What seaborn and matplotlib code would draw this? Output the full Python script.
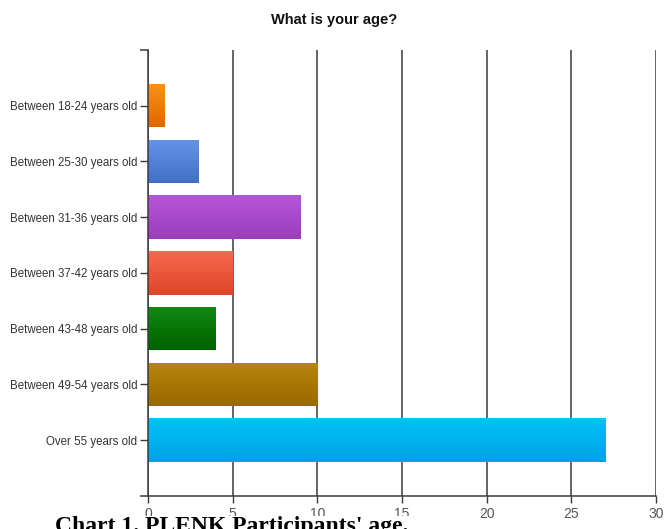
import numpy as np
import pandas as pd
import matplotlib
matplotlib.use("Agg")
import matplotlib.pyplot as plt
import matplotlib.colors as mcolors
import seaborn as sns

# Survey answers: "What is your age?"
age_groups = [
    "Between 18-24 years old",
    "Between 25-30 years old",
    "Between 31-36 years old",
    "Between 37-42 years old",
    "Between 43-48 years old",
    "Between 49-54 years old",
    "Over 55 years old",
]
counts = [1, 3, 9, 5, 4, 10, 27]

# (top, bottom) shades for each bar's vertical gradient
top_colors = ["#F7931A", "#6493E6", "#B556D6", "#F8684E", "#128A12", "#B8860E", "#00C2FA"]
bottom_colors = ["#DE6800", "#4270C8", "#9A3EBE", "#DE4628", "#006200", "#9A6800", "#00A2E2"]

x_ticks = [0, 5, 10, 15, 20, 25, 30]

df = pd.DataFrame({"group": age_groups, "count": counts})

sns.set_style("white")
plt.rcParams["font.family"] = ["Liberation Sans", "DejaVu Sans"]

fig = plt.figure(figsize=(6.68, 5.29), dpi=100)
ax = fig.add_axes([0.2216, 0.0624, 0.7604, 0.8431])

sns.barplot(data=df, x="count", y="group", hue="group", palette=top_colors,
            legend=False, width=0.78, ax=ax, orient="h", saturation=1)

# Vertical gradient fill clipped to each bar
for patch, c_top, c_bot in zip(ax.patches, top_colors, bottom_colors):
    x0, y0 = patch.get_x(), patch.get_y()
    w, h = patch.get_width(), patch.get_height()
    cmap = mcolors.LinearSegmentedColormap.from_list("g", [c_top, c_bot])
    grad = np.linspace(0, 1, 64).reshape(-1, 1)
    im = ax.imshow(grad, cmap=cmap, aspect="auto", extent=[x0, x0 + w, y0 + h, y0],
                   origin="upper", zorder=patch.get_zorder() + 0.1, interpolation="bilinear")
    im.set_clip_path(patch)
    patch.set_edgecolor("none")

ax.set_xlim(0, 30)
ax.set_ylim(7.0, -1.0)
ax.set_xticks(x_ticks)
ax.set_xticklabels([str(t) for t in x_ticks])

# Vertical grid lines behind the bars
ax.set_axisbelow(True)
ax.xaxis.grid(True, color="#3a3a3a", linewidth=1.1)
ax.yaxis.grid(False)

for side in ["top", "right"]:
    ax.spines[side].set_visible(False)
ax.spines["left"].set_color("#3a3a3a")
ax.spines["bottom"].set_color("#3a3a3a")
ax.spines["left"].set_linewidth(1.1)
ax.spines["bottom"].set_linewidth(1.1)

ax.set_xlabel("")
ax.set_ylabel("")
ax.tick_params(axis="y", which="major", length=6, width=1, color="#3a3a3a",
               labelsize=8.3, labelcolor="#333333", pad=1.5, left=True)
ax.set_yticks([-1, 7], minor=True)
ax.tick_params(axis="y", which="minor", length=6, width=1.1, color="#3a3a3a", left=True)
ax.tick_params(axis="x", length=5, width=1, color="#3a3a3a", labelsize=10,
               labelcolor="#555555", pad=3, bottom=True)

fig.text(0.5, 0.962, "What is your age?", ha="center", va="center",
         fontsize=10.5, fontweight="bold", color="#111111")

fig.text(0.083, -0.005, "Chart 1. PLENK Participants' age.", ha="left", va="baseline",
         fontsize=17, fontweight="bold", family=["Liberation Serif", "DejaVu Serif"],
         color="#000000",
         bbox=dict(facecolor="white", edgecolor="none", pad=0), zorder=10)

fig.savefig("out.png", dpi=100)
